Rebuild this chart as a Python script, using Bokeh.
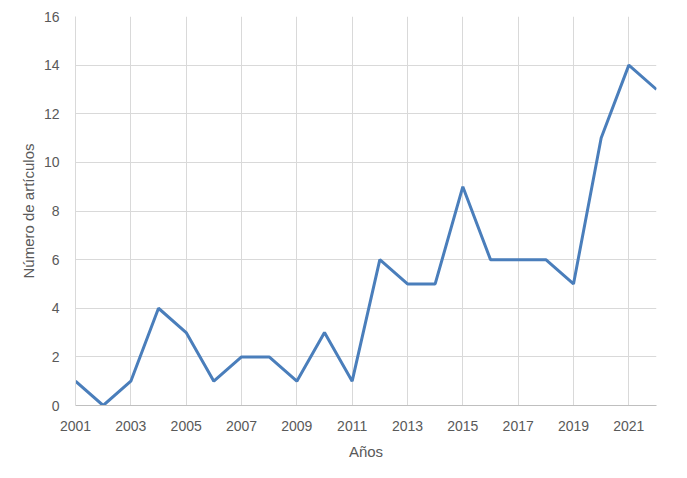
from bokeh.plotting import figure
from bokeh.models import FixedTicker, Range1d
from bokeh.embed import file_html
from bokeh.resources import INLINE

years = list(range(2001, 2023))
articles = [1, 0, 1, 4, 3, 1, 2, 2, 1, 3, 1, 6, 5, 5, 9, 6, 6, 6, 5, 11, 14, 13]
x_ticks = list(range(2001, 2023, 2))
y_ticks = list(range(0, 17, 2))

p = figure(width=679, height=470, output_backend="svg", toolbar_location=None,
           x_range=Range1d(2001, 2022), y_range=Range1d(0, 16),
           min_border_left=75, min_border_top=16, min_border_right=23, min_border_bottom=65)
p.outline_line_color = None
p.line(years, articles, line_color="#4A7EBB", line_width=3)

font = "Liberation Sans"
for ax in (p.xaxis[0], p.yaxis[0]):
    ax.major_tick_line_color = None
    ax.minor_tick_line_color = None
    ax.major_label_text_font = font
    ax.major_label_text_font_size = "14px"
    ax.major_label_text_color = "#595959"
    ax.axis_label_text_font = font
    ax.axis_label_text_font_size = "15px"
    ax.axis_label_text_font_style = "normal"
    ax.axis_label_text_color = "#595959"

p.xaxis.ticker = FixedTicker(ticks=x_ticks)
p.yaxis.ticker = FixedTicker(ticks=y_ticks)
p.xaxis.axis_label = "Años"
p.yaxis.axis_label = "Número de artículos"
p.xaxis.axis_line_color = "#BFBFBF"
p.yaxis.axis_line_color = "#D9D9D9"
p.xaxis.major_label_standoff = 9
p.yaxis.major_label_standoff = 10
p.xaxis.axis_label_standoff = 9
p.yaxis.axis_label_standoff = 4
p.xgrid.ticker = FixedTicker(ticks=x_ticks)
p.ygrid.ticker = FixedTicker(ticks=y_ticks)
p.xgrid.grid_line_color = "#D9D9D9"
p.ygrid.grid_line_color = "#D9D9D9"

open("out.html", "w").write(file_html(p, INLINE))
